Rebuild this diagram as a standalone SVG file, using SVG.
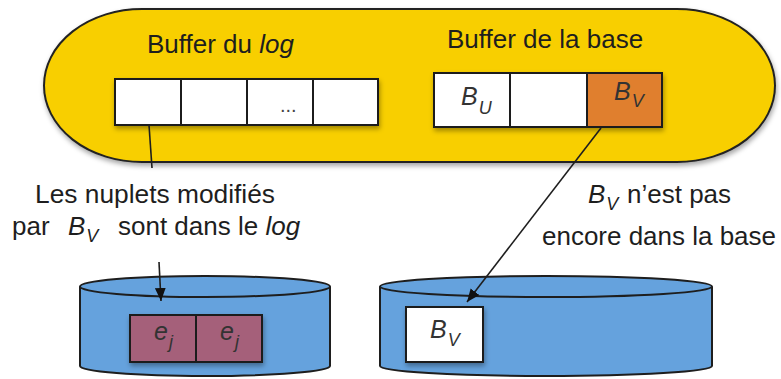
<svg xmlns="http://www.w3.org/2000/svg" width="781" height="379" viewBox="0 0 781 379">
  <defs>
    <style>
      .lbl { font-family: "Liberation Sans", Arial, sans-serif; font-size: 26px; fill: #1e1e1e; }
      .sym { font-family: "Liberation Sans", Arial, sans-serif; font-size: 25px; font-style: italic; fill: #333; }
      .sub { font-size: 18px; }
      .it { font-style: italic; }
      .cell { fill: #fff; stroke: #1e1e1e; stroke-width: 2; }
      .edge { stroke: #1e1e1e; stroke-width: 1.6; fill: none; }
      .disk { fill: #65a2dd; stroke: #1e1e1e; stroke-width: 2; }
    </style>
    <filter id="shadow" x="-10%" y="-10%" width="130%" height="140%">
      <feDropShadow dx="1" dy="3" stdDeviation="2.5" flood-color="#000" flood-opacity="0.35"/>
    </filter>
    <marker id="head" viewBox="0 0 12 10" refX="12" refY="5" markerWidth="13" markerHeight="11" markerUnits="userSpaceOnUse" orient="auto">
      <path d="M0,0 L12,5 L0,10 Z" fill="#111"/>
    </marker>
  </defs>

  <!-- memory area holding the two buffers -->
  <g id="memory">
    <rect x="44" y="9" width="731" height="153" rx="98" ry="76.5" fill="#f8cf00" stroke="#222" stroke-width="2" filter="url(#shadow)"/>
  </g>

  <!-- log buffer -->
  <g id="log-buffer">
    <text class="lbl" x="147" y="53">Buffer du <tspan class="it">log</tspan></text>
    <g filter="url(#shadow)">
      <rect class="cell" x="115" y="79" width="66" height="46"/>
      <rect class="cell" x="181" y="79" width="66" height="46"/>
      <rect class="cell" x="247" y="79" width="66" height="46"/>
      <rect class="cell" x="313" y="79" width="65" height="46"/>
    </g>
    <text class="lbl" x="280" y="112" style="font-size:20px;fill:#444">...</text>
  </g>

  <!-- database buffer -->
  <g id="db-buffer">
    <text class="lbl" x="447" y="48">Buffer de la base</text>
    <g filter="url(#shadow)">
      <rect class="cell" x="434" y="73" width="76" height="54"/>
      <rect class="cell" x="510" y="73" width="77" height="54"/>
      <rect class="cell" x="587" y="73" width="75" height="54" style="fill:#e07f2e"/>
    </g>
    <text class="sym" x="461" y="105">B<tspan class="sub" dx="1" dy="9">U</tspan></text>
    <text class="sym" x="614" y="100">B<tspan class="sub" dx="1" dy="7">V</tspan></text>
  </g>

  <!-- log file on disk -->
  <g id="log-disk">
    <path class="disk" d="M80,286.5 L80,366 A125,10 0 0 0 330,366 L330,286.5"/>
    <ellipse class="disk" cx="205" cy="286.5" rx="125" ry="10.5"/>
    <g filter="url(#shadow)">
      <rect x="130" y="315" width="66" height="47" fill="#a5607a" stroke="#1e1e1e" stroke-width="2"/>
      <rect x="196" y="315" width="66" height="47" fill="#a5607a" stroke="#1e1e1e" stroke-width="2"/>
    </g>
    <text class="sym" x="154" y="340">e<tspan class="sub" dx="1" dy="8">j</tspan></text>
    <text class="sym" x="220" y="340">e<tspan class="sub" dx="1" dy="8">j</tspan></text>
  </g>

  <!-- database on disk -->
  <g id="db-disk">
    <path class="disk" d="M380,286.5 L380,366 A166,10 0 0 0 712,366 L712,286.5"/>
    <ellipse class="disk" cx="546" cy="286.5" rx="166" ry="10.5"/>
    <rect class="cell" x="406" y="307" width="77" height="55" filter="url(#shadow)"/>
    <text class="sym" x="430" y="338">B<tspan class="sub" dx="1" dy="8">V</tspan></text>
  </g>

  <!-- annotations -->
  <g id="note-log">
    <text class="lbl" x="35" y="203" textLength="240" lengthAdjust="spacingAndGlyphs">Les nuplets modifiés</text>
    <text class="lbl" x="12" y="235">par</text>
    <text class="lbl it" x="68" y="235">B<tspan style="font-size:18px" dx="1" dy="7">V</tspan></text>
    <text class="lbl" x="118" y="235">sont dans le <tspan class="it">log</tspan></text>
  </g>
  <g id="note-db">
    <text class="lbl it" x="588" y="203">B<tspan style="font-size:18px" dx="1" dy="7">V</tspan></text>
    <text class="lbl" x="627" y="203">n’est pas</text>
    <text class="lbl" x="542" y="245" textLength="234" lengthAdjust="spacingAndGlyphs">encore dans la base</text>
  </g>

  <!-- connectors -->
  <g id="connectors">
    <line class="edge" x1="149" y1="125" x2="152" y2="168"/>
    <line class="edge" x1="159" y1="262" x2="161" y2="301" marker-end="url(#head)"/>
    <line class="edge" x1="601" y1="128" x2="467" y2="302" marker-end="url(#head)"/>
  </g>
</svg>
